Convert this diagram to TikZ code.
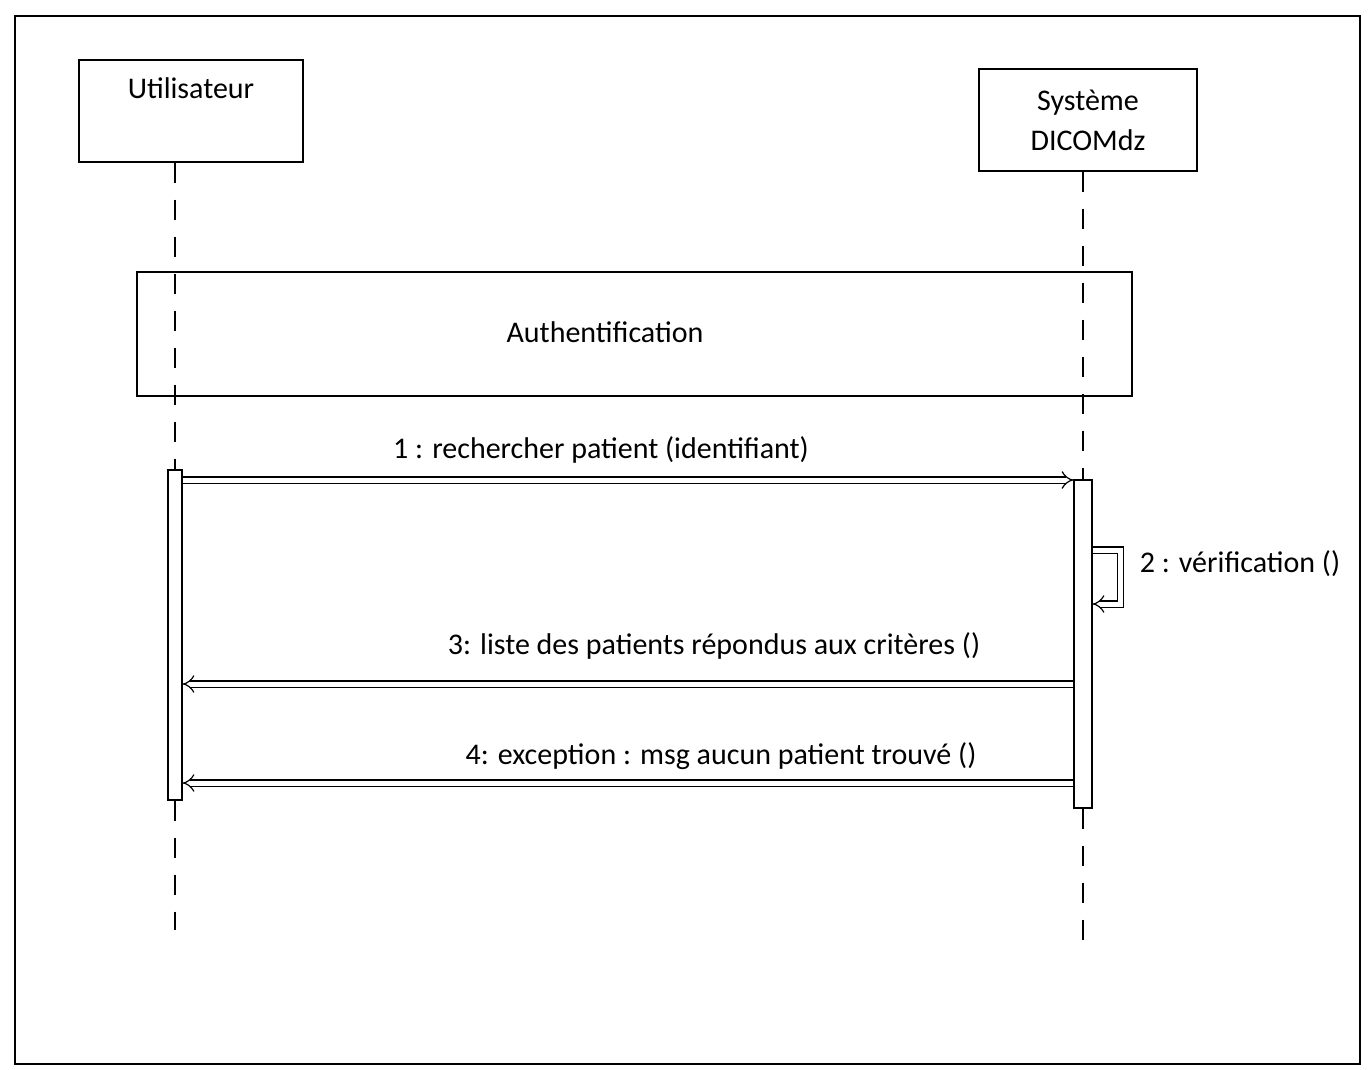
\documentclass[tikz,border=0pt]{standalone}
\usepackage{fontspec}
\setmainfont{Carlito}
\usetikzlibrary{arrows.meta,calc}
\begin{document}
\begin{tikzpicture}[x=1pt,y=-1pt,
  every node/.style={font=\fontsize{30}{40}\selectfont, inner sep=0pt},
  box/.style={draw, line width=1.3pt, minimum width=#1},
  bar/.style={draw, fill=white, line width=1.3pt},
  life/.style={line width=1.3pt, dash pattern=on 20pt off 17pt},
  msg/.style={double=white, double distance=5pt, line width=1.2pt, -{Implies[scale=1.2]}}]
  % page and frame
  \useasboundingbox (0,0) rectangle (1372,1069);
  \fill[white] (0,0) rectangle (1372,1069);
  \draw[line width=1.5pt] (15,16) rectangle (1360,1064);

  % actors
  \node[box=224, minimum height=102] (U) at (191,111) {};
  \node (Ut) at (191,88) {Utilisateur};
  \node[box=218, minimum height=102, align=center] (S) at (1088,120) {Système\\DICOMdz};

  % interaction reference
  \node[box=995, minimum height=124] (auth) at (634.5,334) {};
  \node (autht) at (605,332) {Authentification};

  % activation bars
  \node[bar, minimum width=14, minimum height=330] (ub) at (175,635) {};
  \node[bar, minimum width=18, minimum height=328] (sb) at (1083,644) {};

  % lifelines
  \coordinate (uend) at (175,930);
  \coordinate (send) at (1083,940);
  \draw[life] (U.south -| ub) -- (ub.north);
  \draw[life] (ub.south) -- (uend);
  \draw[life] (S.south -| sb) -- (sb.north);
  \draw[life] (sb.south) -- (send);

  % message rows
  \coordinate (m1) at (0,480);
  \coordinate (m2a) at (0,550);
  \coordinate (m2b) at (0,604);
  \coordinate (m3) at (0,684);
  \coordinate (m4) at (0,783);

  \draw[msg] (m1 -| ub.east) -- (m1 -| sb.west);
  \node (m1l) at (601,450) {1 : rechercher patient (identifiant)};

  \draw[msg] (m2a -| sb.east) -- ++(28,0) |- (m2b -| sb.east);
  \node (m2l) at (1240,564) {2 : vérification ()};

  \draw[msg] (m3 -| sb.west) -- (m3 -| ub.east);
  \node (m3l) at (714,646) {3: liste des patients répondus aux critères ()};

  \draw[msg] (m4 -| sb.west) -- (m4 -| ub.east);
  \node (m4l) at (721,756) {4: exception : msg aucun patient trouvé ()};
\end{tikzpicture}
\end{document}
